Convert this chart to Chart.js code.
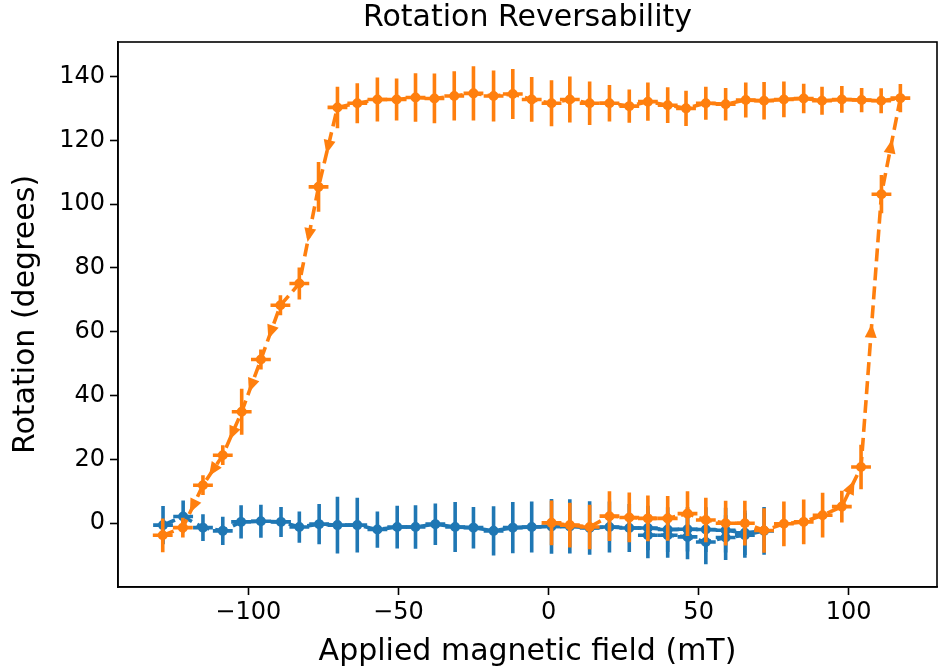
<!DOCTYPE html>
<html>
<head>
<meta charset="utf-8">
<script src="https://cdn.jsdelivr.net/npm/chart.js@4.4.0/dist/chart.umd.min.js"></script>
<style>
  html, body { margin: 0; padding: 0; background: #fff; }
</style>
</head>
<body>
<canvas id="rotChart" width="943" height="670"></canvas>
<script>
// blue run: small field sweep, no switching
const blueField = [-128.4, -121.7, -115.1, -108.5, -102.4, -95.8, -89.1, -83.0, -76.4, -70.3,
  -63.7, -57.0, -50.4, -44.3, -37.7, -31.1, -25.0, -18.3, -11.9, -5.6,
  1.0, 7.1, 13.7, 20.3, 26.9, 33.1, 39.7, 46.3, 52.4, 59.0, 65.4, 71.8,
  65.4, 59.0, 52.4, 46.3, 39.7, 33.1];
const blueRotation = [-0.6, 2.1, -1.4, -2.4, 0.4, 0.6, 0.4, -1.2, -0.3, -0.6,
  -0.6, -2.0, -1.2, -1.2, -0.3, -1.2, -1.4, -2.4, -1.4, -1.2,
  -1.0, -1.0, -1.5, -1.2, -1.5, -1.5, -2.0, -1.9, -2.0, -2.2, -3.0, -2.4,
  -3.8, -4.5, -5.9, -4.3, -3.8, -3.8];
const blueRotErr = [6.0, 5.0, 4.2, 4.4, 5.2, 5.2, 4.7, 4.9, 6.3, 8.9,
  8.6, 5.7, 6.7, 6.8, 6.5, 7.8, 6.5, 7.7, 8.0, 8.0,
  8.6, 8.5, 8.4, 8.0, 7.5, 7.0, 7.0, 7.0, 7.0, 7.0, 7.0, 7.5,
  7.0, 7.0, 7.0, 7.0, 7.0, 7.2];

// orange run: full loop up to +117 mT and back down to -128 mT
const orangeField = [1.0, 7.1, 13.7, 20.3, 26.9, 33.1, 39.7, 46.3, 52.4, 59.0,
  65.4, 71.8, 78.4, 85.0, 91.3, 97.7, 104.1, 110.9, 117.2,
  110.8, 104.3, 97.7, 91.1, 85.0, 78.4, 71.8, 65.7, 59.0, 52.4,
  45.8, 39.7, 33.1, 26.9, 20.3, 13.7, 7.1, 1.0, -5.6, -11.9,
  -18.3, -25.0, -31.4, -38.0, -44.3, -50.6, -57.0, -63.7, -70.3,
  -76.6, -83.0, -89.3, -95.8, -102.2, -108.5, -115.1, -121.8, -128.5];
const orangeRotation = [0.1, -0.6, -1.2, 2.2, 1.8, 1.5, 1.5, 3.0, 1.0, 0.0,
  0.0, -2.3, -0.2, 0.4, 2.5, 5.2, 17.6, 103.1, 133.2,
  132.4, 132.6, 132.8, 132.4, 133.1, 132.8, 132.4, 132.6, 131.3, 131.6,
  130.0, 131.0, 132.1, 130.7, 131.6, 131.6, 132.8, 131.6, 132.8, 134.5,
  133.9, 134.7, 133.9, 133.1, 133.4, 132.8, 132.8, 131.6, 130.3,
  105.4, 75.1, 68.3, 51.3, 34.9, 21.3, 11.9, -1.4, -3.8];
const orangeRotErr = [7.0, 7.0, 7.0, 7.8, 7.8, 7.2, 7.0, 7.0, 7.0, 7.0,
  7.0, 7.0, 7.0, 7.0, 7.0, 5.0, 7.0, 6.0, 4.4,
  3.9, 3.8, 4.2, 4.4, 4.6, 5.6, 5.9, 5.5, 5.1, 5.2,
  5.5, 5.6, 6.0, 5.2, 5.7, 6.8, 7.2, 7.2, 7.0, 7.8,
  8.0, 8.5, 7.7, 7.8, 7.6, 6.6, 6.9, 6.3, 6.5,
  7.8, 5.0, 3.1, 3.1, 7.2, 3.1, 3.1, 3.1, 5.3];

const fieldErr = 3.3;   // mT, same for every point
const xTicks = [-100, -50, 0, 50, 100];
const yTicks = [0, 20, 40, 60, 80, 100, 120, 140];

const BLUE = '#1f77b4';
const ORANGE = '#ff7f0e';
const FONT = 'DejaVu Sans';

function toPoints(xs, ys) {
  return xs.map((x, i) => ({ x: x, y: ys[i] }));
}

// error bars are drawn under the line and markers of each dataset
const errorBarPlugin = {
  id: 'errorBars',
  beforeDatasetDraw(chart, args) {
    const ds = chart.data.datasets[args.index];
    if (!ds.yErr) return;
    const xs = chart.scales.x, ys = chart.scales.y;
    const ctx = chart.ctx;
    ctx.save();
    ctx.strokeStyle = ds.borderColor;
    ctx.lineWidth = 3.6;
    ctx.lineCap = 'butt';
    ds.data.forEach((p, i) => {
      const px = xs.getPixelForValue(p.x), py = ys.getPixelForValue(p.y);
      ctx.beginPath();
      ctx.moveTo(px, ys.getPixelForValue(p.y - ds.yErr[i]));
      ctx.lineTo(px, ys.getPixelForValue(p.y + ds.yErr[i]));
      ctx.moveTo(xs.getPixelForValue(p.x - ds.xErr), py);
      ctx.lineTo(xs.getPixelForValue(p.x + ds.xErr), py);
      ctx.stroke();
    });
    ctx.restore();
  }
};

// direction arrows at the middle of the long segments
const arrowPlugin = {
  id: 'arrows',
  afterDatasetDraw(chart, args) {
    const ds = chart.data.datasets[args.index];
    if (!ds.arrows) return;
    const xs = chart.scales.x, ys = chart.scales.y;
    const ctx = chart.ctx;
    ctx.save();
    ctx.fillStyle = ds.borderColor;
    for (let i = 0; i < ds.data.length - 1; i++) {
      const x0 = xs.getPixelForValue(ds.data[i].x), y0 = ys.getPixelForValue(ds.data[i].y);
      const x1 = xs.getPixelForValue(ds.data[i + 1].x), y1 = ys.getPixelForValue(ds.data[i + 1].y);
      const len = Math.hypot(x1 - x0, y1 - y0);
      if (len < 33) continue;
      const ux = (x1 - x0) / len, uy = (y1 - y0) / len;
      const mx = (x0 + x1) / 2, my = (y0 + y1) / 2;
      const head = 14, half = 6;
      const tipX = mx + ux * head / 2, tipY = my + uy * head / 2;
      const bx = mx - ux * head / 2, by = my - uy * head / 2;
      ctx.beginPath();
      ctx.moveTo(tipX, tipY);
      ctx.lineTo(bx - uy * half, by + ux * half);
      ctx.lineTo(bx + uy * half, by - ux * half);
      ctx.closePath();
      ctx.fill();
    }
    ctx.restore();
  }
};

const framePlugin = {
  id: 'frame',
  afterDraw(chart) {
    const a = chart.chartArea, ctx = chart.ctx;
    ctx.save();
    ctx.strokeStyle = '#000';
    ctx.lineWidth = 1.6;
    ctx.strokeRect(a.left, a.top, a.right - a.left, a.bottom - a.top);
    ctx.restore();
  }
};

const minusSign = v => String(v).replace('-', '\u2212');

new Chart(document.getElementById('rotChart'), {
  type: 'line',
  data: {
    datasets: [
      {
        label: 'orange',
        data: toPoints(orangeField, orangeRotation),
        yErr: orangeRotErr,
        xErr: fieldErr,
        arrows: true,
        borderColor: ORANGE,
        backgroundColor: ORANGE,
        borderWidth: 3.6,
        borderDash: [13, 6],
        pointRadius: 4,
        pointBorderWidth: 2,
        pointHoverRadius: 4,
        tension: 0,
        order: 0
      },
      {
        label: 'blue',
        data: toPoints(blueField, blueRotation),
        yErr: blueRotErr,
        xErr: fieldErr,
        borderColor: BLUE,
        backgroundColor: BLUE,
        borderWidth: 3.6,
        borderDash: [13, 6],
        pointRadius: 4,
        pointBorderWidth: 2,
        pointHoverRadius: 4,
        tension: 0,
        order: 1
      }
    ]
  },
  options: {
    responsive: false,
    devicePixelRatio: 1,
    animation: false,
    layout: { padding: { top: 0, right: 3, left: 0, bottom: 0 } },
    plugins: {
      legend: { display: false },
      tooltip: { enabled: false },
      title: {
        display: true,
        fullSize: false,
        text: 'Rotation Reversability',
        color: '#000',
        font: { family: FONT, size: 30, weight: 'normal', lineHeight: 1.2 },
        padding: { top: 0, bottom: 6 }
      }
    },
    scales: {
      x: {
        type: 'linear',
        min: -143.4,
        max: 129.4,
        afterBuildTicks: s => { s.ticks = xTicks.map(v => ({ value: v })); },
        afterFit: s => { s.height = 83; },
        grid: { drawOnChartArea: false, tickLength: 8, tickColor: '#000', tickWidth: 1.6 },
        border: { display: true, color: '#000', width: 1.6 },
        ticks: { color: '#000', font: { family: FONT, size: 24 }, padding: 3, maxRotation: 0, autoSkip: false, callback: minusSign },
        title: { display: true, text: 'Applied magnetic field (mT)', color: '#000', font: { family: FONT, size: 30 }, padding: { top: 0, bottom: 0 } }
      },
      y: {
        type: 'linear',
        min: -20.0,
        max: 150.8,
        afterBuildTicks: s => { s.ticks = yTicks.map(v => ({ value: v })); },
        afterFit: s => { s.width = 118; },
        grid: { drawOnChartArea: false, tickLength: 8, tickColor: '#000', tickWidth: 1.6 },
        border: { display: true, color: '#000', width: 1.6 },
        ticks: { color: '#000', font: { family: FONT, size: 24 }, padding: 5, autoSkip: false, callback: minusSign },
        title: { display: true, text: 'Rotation (degrees)', color: '#000', font: { family: FONT, size: 30 }, padding: { top: 8, bottom: 0 } }
      }
    }
  },
  plugins: [errorBarPlugin, arrowPlugin, framePlugin]
});
</script>
</body>
</html>
